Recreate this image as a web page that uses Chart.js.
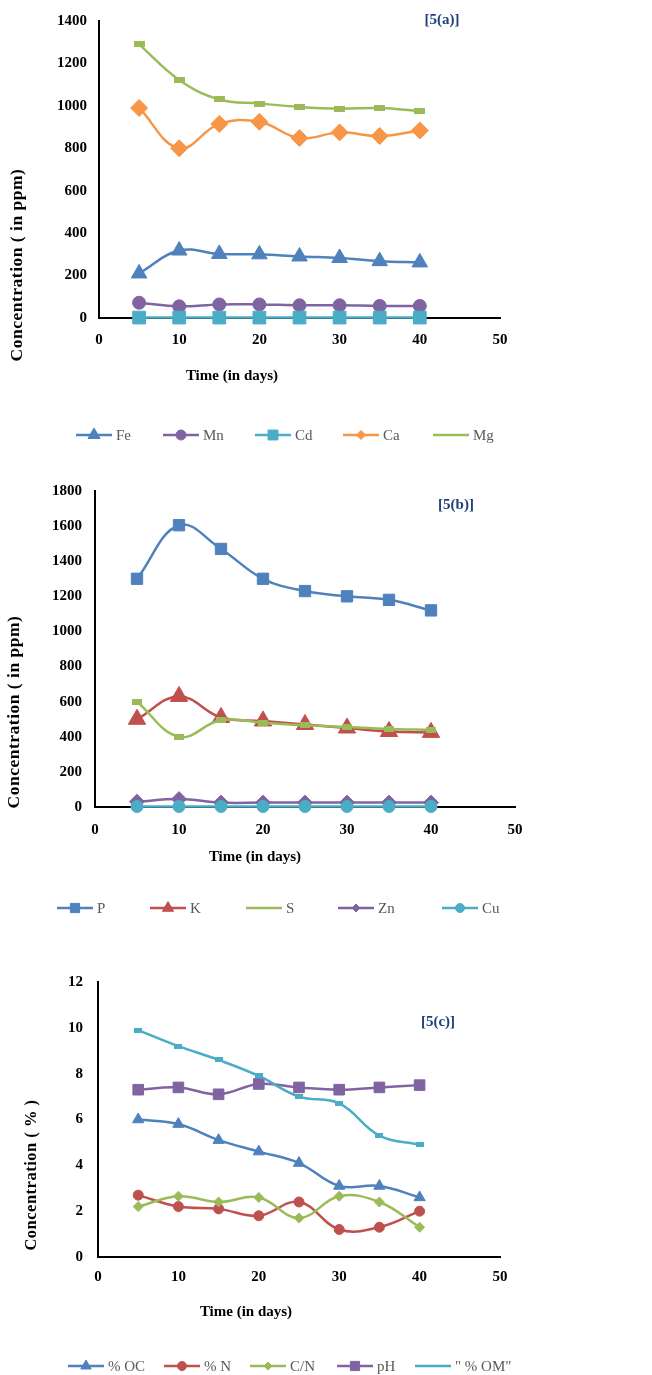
<!DOCTYPE html>
<html>
<head>
<meta charset="utf-8">
<script src="https://cdn.jsdelivr.net/npm/chart.js@4.4.0/dist/chart.umd.min.js"></script>
<style>
  body { margin: 0; background: #fff; }
  .panel { position: absolute; left: 0; width: 652px; }
</style>
</head>
<body>
<div class="panel" style="top:0"><canvas id="chartA" width="652" height="460"></canvas></div>
<div class="panel" style="top:460px"><canvas id="chartB" width="652" height="460"></canvas></div>
<div class="panel" style="top:920px"><canvas id="chartC" width="652" height="455"></canvas></div>
<script>
// time axis (days)
const days = [5, 10, 15, 20, 25, 30, 35, 40];

// 5(a) ppm
const labelsA = ['Fe', 'Mn', 'Cd', 'Ca', 'Mg'];
const fe = [210, 318, 302, 300, 290, 283, 268, 262];
const mn = [72, 55, 64, 64, 60, 60, 57, 57];
const cd = [2, 2, 2, 2, 2, 2, 2, 2];
const ca = [990, 800, 915, 925, 848, 875, 858, 884];
const mg = [1290, 1122, 1030, 1011, 995, 987, 990, 975];

// 5(b) ppm
const labelsB = ['P', 'K', 'S', 'Zn', 'Cu'];
const p = [1300, 1605, 1470, 1300, 1230, 1200, 1180, 1120];
const k = [500, 630, 510, 490, 470, 450, 430, 425];
const s = [600, 400, 495, 480, 465, 455, 445, 440];
const zn = [30, 45, 25, 25, 25, 25, 25, 25];
const cu = [3, 3, 3, 3, 3, 3, 3, 3];

// 5(c) %
const labelsC = ['% OC', '% N', 'C/N', 'pH', '" % OM"'];
const oc = [6.0, 5.8, 5.1, 4.6, 4.1, 3.1, 3.1, 2.6];
const nitrogen = [2.7, 2.2, 2.1, 1.8, 2.4, 1.2, 1.3, 2.0];
const cn = [2.2, 2.65, 2.4, 2.6, 1.7, 2.65, 2.4, 1.3];
const ph = [7.3, 7.4, 7.1, 7.55, 7.4, 7.3, 7.4, 7.5];
const om = [9.9, 9.2, 8.6, 7.9, 7.0, 6.7, 5.3, 4.9];

const BLUE = '#4F81BD', RED = '#C0504D', GREEN = '#9BBB59',
      PURPLE = '#8064A2', CYAN = '#4BACC6', ORANGE = '#F79646';

// small dash marker like the excel one
function dash(color, w, h) {
  const c = document.createElement('canvas');
  c.width = w; c.height = h;
  const g = c.getContext('2d');
  g.fillStyle = color;
  g.fillRect(0, 0, w, h);
  return c;
}

function series(label, values, color, style, r, legendR) {
  return {
    label: label,
    data: values.map((v, i) => ({ x: days[i], y: v })),
    borderColor: color,
    backgroundColor: color,
    borderWidth: 2.5,
    tension: 0.4,
    pointStyle: style,
    pointRadius: r,
    pointHoverRadius: r,
    pointBorderWidth: 1,
    clip: false,
    legendStyle: typeof style === 'string' ? style : null,
    legendRadius: legendR
  };
}

const decor = {
  id: 'decor',
  afterDraw(chart, args, o) {
    const ctx = chart.ctx;
    ctx.save();
    ctx.fillStyle = '#000';
    ctx.textAlign = 'center';
    ctx.textBaseline = 'middle';
    ctx.font = 'bold ' + o.yTitle.size + 'px "Liberation Serif"';
    ctx.save();
    ctx.translate(o.yTitle.x, o.yTitle.y);
    ctx.rotate(-Math.PI / 2);
    ctx.letterSpacing = '0.5px';
    ctx.fillText(o.yTitle.text, 0, 0);
    ctx.restore();
    ctx.font = 'bold 15px "Liberation Serif"';
    ctx.fillText(o.xTitle.text, o.xTitle.x, o.xTitle.y);
    ctx.fillStyle = '#1F3F7A';
    ctx.fillText(o.tag.text, o.tag.x, o.tag.y);

    // legend: line + marker + text
    ctx.font = '15px "Liberation Serif"';
    ctx.textAlign = 'left';
    chart.data.datasets.forEach((ds, i) => {
      const x0 = o.legend.x[i], y = o.legend.y;
      ctx.strokeStyle = ds.borderColor;
      ctx.lineWidth = 2.5;
      ctx.beginPath();
      ctx.moveTo(x0, y);
      ctx.lineTo(x0 + 36, y);
      ctx.stroke();
      if (ds.legendStyle) {
        ctx.fillStyle = ds.borderColor;
        ctx.lineWidth = 1;
        Chart.helpers.drawPoint(ctx, { pointStyle: ds.legendStyle, radius: ds.legendRadius, rotation: 0, borderWidth: 1 }, x0 + 18, y);
      }
      ctx.fillStyle = '#595959';
      ctx.fillText(ds.label, x0 + 40, y + 1);
    });
    ctx.restore();
  }
};

const tickFont = { family: '"Liberation Serif"', size: 15, weight: 'bold' };
const plain = v => String(v);

function makeChart(id, datasets, yMax, yStep, geo, decorOpts) {
  // later series on top, like excel
  datasets.forEach((d, i) => { d.order = datasets.length - i; });
  return new Chart(document.getElementById(id), {
    type: 'line',
    data: { datasets: datasets },
    options: {
      responsive: false,
      animation: false,
      layout: { padding: { left: 0, top: geo.top, right: geo.right, bottom: 0 } },
      plugins: { legend: { display: false }, tooltip: { enabled: false }, decor: decorOpts },
      scales: {
        x: {
          type: 'linear', min: 0, max: 50,
          ticks: { stepSize: 10, font: tickFont, color: '#000', padding: geo.xpad, callback: plain },
          grid: { display: false, drawTicks: false },
          border: { display: true, color: '#000', width: 2 },
          afterFit(sc) { sc.height = geo.xh; }
        },
        y: {
          min: 0, max: yMax,
          ticks: { stepSize: yStep, font: tickFont, color: '#000', padding: geo.ypad, callback: plain },
          grid: { display: false, drawTicks: false },
          border: { display: true, color: '#000', width: 2 },
          afterFit(sc) { sc.width = geo.yw; }
        }
      }
    },
    plugins: [decor]
  });
}

makeChart('chartA', [
  series(labelsA[0], fe, BLUE, 'triangle', 9, 7),
  series(labelsA[1], mn, PURPLE, 'circle', 6.5, 5),
  series(labelsA[2], cd, CYAN, 'rect', 9, 7),
  series(labelsA[3], ca, ORANGE, 'rectRot', 8.5, 4.5),
  series(labelsA[4], mg, GREEN, dash(GREEN, 11, 6), 5, 0)
], 1400, 200,
  { top: 16, right: 152, yw: 99, xh: 142, xpad: 13, ypad: 12 },
  {
    yTitle: { text: 'Concentration ( in ppm)', x: 17, y: 265, size: 17.5 },
    xTitle: { text: 'Time (in days)', x: 232, y: 376 },
    tag: { text: '[5(a)]', x: 442, y: 20 },
    legend: { y: 435, x: [76, 163, 255, 343, 433] }
  });

makeChart('chartB', [
  series(labelsB[0], p, BLUE, 'rect', 8, 6.5),
  series(labelsB[1], k, RED, 'triangle', 10, 6.5),
  series(labelsB[2], s, GREEN, dash(GREEN, 10, 6), 5, 0),
  series(labelsB[3], zn, PURPLE, 'rectRot', 7.5, 4),
  series(labelsB[4], cu, CYAN, 'circle', 6, 4.5)
], 1800, 200,
  { top: 31, right: 137, yw: 95, xh: 113, xpad: 14, ypad: 13 },
  {
    yTitle: { text: 'Concentration ( in ppm)', x: 14, y: 252, size: 17.5 },
    xTitle: { text: 'Time (in days)', x: 255, y: 397 },
    tag: { text: '[5(b)]', x: 456, y: 45 },
    legend: { y: 448, x: [57, 150, 246, 338, 442] }
  });

makeChart('chartC', [
  series(labelsC[0], oc, BLUE, 'triangle', 6.5, 6),
  series(labelsC[1], nitrogen, RED, 'circle', 5, 4.5),
  series(labelsC[2], cn, GREEN, 'rectRot', 5, 4),
  series(labelsC[3], ph, PURPLE, 'rect', 7.5, 6.5),
  series(labelsC[4], om, CYAN, dash(CYAN, 8, 5), 4, 0)
], 12, 2,
  { top: 62, right: 152, yw: 98, xh: 118, xpad: 11, ypad: 15 },
  {
    yTitle: { text: 'Concentration ( % )', x: 32, y: 255, size: 16.5 },
    xTitle: { text: 'Time (in days)', x: 246, y: 392 },
    tag: { text: '[5(c)]', x: 438, y: 102 },
    legend: { y: 446, x: [68, 164, 250, 337, 415] }
  });
</script>
</body>
</html>
